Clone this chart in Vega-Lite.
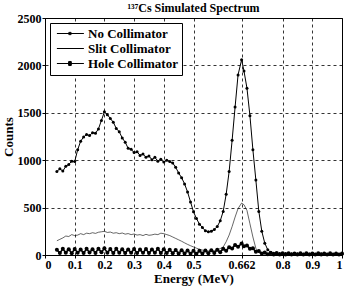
{
  "$schema": "https://vega.github.io/schema/vega-lite/v6.json",
  "width": 297,
  "height": 237,
  "autosize": {"type": "none"},
  "padding": {"left": 45, "top": 18, "right": 4, "bottom": 41},
  "background": "white",
  "title": {
    "text": "¹³⁷Cs Simulated Spectrum",
    "font": "Liberation Serif",
    "fontSize": 12,
    "fontWeight": "bold",
    "color": "black",
    "anchor": "middle",
    "frame": "group",
    "offset": -3
  },
  "config": {
    "view": {"stroke": "black", "strokeWidth": 1},
    "axis": {
      "labelFont": "Liberation Serif",
      "labelFontWeight": "bold",
      "labelFontSize": 12,
      "labelColor": "black",
      "titleFont": "Liberation Serif",
      "titleFontWeight": "bold",
      "titleFontSize": 13,
      "titleColor": "black",
      "domain": false,
      "tickColor": "black",
      "tickSize": 3,
      "labelPadding": 1,
      "gridColor": "black",
      "gridDash": [3, 3],
      "gridWidth": 0.8
    },
    "legend": {
      "orient": "top-left",
      "offset": 5,
      "padding": 4,
      "strokeColor": "black",
      "fillColor": "white",
      "labelFont": "Liberation Serif",
      "labelFontWeight": "bold",
      "labelFontSize": 13,
      "labelColor": "black",
      "labelOffset": 21,
      "symbolSize": 81,
      "symbolStrokeWidth": 1,
      "rowPadding": 1
    }
  },
  "datasets": {
    "noCollimator": [
      {"E": 0.04, "C": 880}, {"E": 0.05, "C": 910}, {"E": 0.06, "C": 885}, {"E": 0.07, "C": 935},
      {"E": 0.08, "C": 955}, {"E": 0.09, "C": 990}, {"E": 0.10, "C": 985}, {"E": 0.11, "C": 1110},
      {"E": 0.12, "C": 1200}, {"E": 0.13, "C": 1245}, {"E": 0.14, "C": 1270}, {"E": 0.15, "C": 1260},
      {"E": 0.16, "C": 1290}, {"E": 0.17, "C": 1285}, {"E": 0.18, "C": 1330}, {"E": 0.19, "C": 1420},
      {"E": 0.20, "C": 1510}, {"E": 0.21, "C": 1480}, {"E": 0.22, "C": 1440}, {"E": 0.23, "C": 1400},
      {"E": 0.24, "C": 1335}, {"E": 0.25, "C": 1300}, {"E": 0.26, "C": 1235}, {"E": 0.27, "C": 1190},
      {"E": 0.28, "C": 1125}, {"E": 0.29, "C": 1115}, {"E": 0.30, "C": 1080}, {"E": 0.31, "C": 1090},
      {"E": 0.32, "C": 1050}, {"E": 0.33, "C": 1065}, {"E": 0.34, "C": 1030}, {"E": 0.35, "C": 1045},
      {"E": 0.36, "C": 1005}, {"E": 0.37, "C": 1030}, {"E": 0.38, "C": 990}, {"E": 0.39, "C": 1010},
      {"E": 0.40, "C": 980}, {"E": 0.41, "C": 1000}, {"E": 0.42, "C": 985}, {"E": 0.43, "C": 970},
      {"E": 0.44, "C": 925}, {"E": 0.45, "C": 865}, {"E": 0.46, "C": 815}, {"E": 0.47, "C": 750},
      {"E": 0.48, "C": 665}, {"E": 0.49, "C": 560}, {"E": 0.50, "C": 455}, {"E": 0.51, "C": 385},
      {"E": 0.52, "C": 325}, {"E": 0.53, "C": 290}, {"E": 0.54, "C": 255}, {"E": 0.55, "C": 245},
      {"E": 0.56, "C": 250}, {"E": 0.57, "C": 270}, {"E": 0.58, "C": 300}, {"E": 0.59, "C": 360},
      {"E": 0.60, "C": 460}, {"E": 0.61, "C": 640}, {"E": 0.62, "C": 880}, {"E": 0.63, "C": 1210},
      {"E": 0.64, "C": 1560}, {"E": 0.65, "C": 1900}, {"E": 0.662, "C": 2060}, {"E": 0.67, "C": 1940},
      {"E": 0.68, "C": 1760}, {"E": 0.69, "C": 1470}, {"E": 0.70, "C": 1110}, {"E": 0.71, "C": 790},
      {"E": 0.72, "C": 460}, {"E": 0.73, "C": 250}, {"E": 0.74, "C": 125}, {"E": 0.75, "C": 55},
      {"E": 0.76, "C": 28}, {"E": 0.77, "C": 18}, {"E": 0.78, "C": 14}, {"E": 0.79, "C": 16},
      {"E": 0.80, "C": 12}, {"E": 0.81, "C": 15}, {"E": 0.82, "C": 11}, {"E": 0.83, "C": 14},
      {"E": 0.84, "C": 10}, {"E": 0.85, "C": 13}, {"E": 0.86, "C": 12}, {"E": 0.87, "C": 9},
      {"E": 0.88, "C": 12}, {"E": 0.89, "C": 10}, {"E": 0.90, "C": 13}, {"E": 0.91, "C": 9},
      {"E": 0.92, "C": 11}, {"E": 0.93, "C": 12}, {"E": 0.94, "C": 10}, {"E": 0.95, "C": 8},
      {"E": 0.96, "C": 11}, {"E": 0.97, "C": 9}, {"E": 0.98, "C": 10}, {"E": 0.99, "C": 8},
      {"E": 1.00, "C": 9}
    ],
    "slit": [
      {"E": 0.04, "C": 150}, {"E": 0.05, "C": 165}, {"E": 0.06, "C": 180}, {"E": 0.07, "C": 200},
      {"E": 0.08, "C": 195}, {"E": 0.09, "C": 215}, {"E": 0.10, "C": 205}, {"E": 0.11, "C": 210},
      {"E": 0.12, "C": 225}, {"E": 0.13, "C": 215}, {"E": 0.14, "C": 230}, {"E": 0.15, "C": 225},
      {"E": 0.16, "C": 235}, {"E": 0.17, "C": 228}, {"E": 0.18, "C": 240}, {"E": 0.19, "C": 245},
      {"E": 0.20, "C": 250}, {"E": 0.21, "C": 238}, {"E": 0.22, "C": 242}, {"E": 0.23, "C": 230},
      {"E": 0.24, "C": 235}, {"E": 0.25, "C": 225}, {"E": 0.26, "C": 232}, {"E": 0.27, "C": 220},
      {"E": 0.28, "C": 226}, {"E": 0.29, "C": 215}, {"E": 0.30, "C": 222}, {"E": 0.31, "C": 210},
      {"E": 0.32, "C": 215}, {"E": 0.33, "C": 205}, {"E": 0.34, "C": 218}, {"E": 0.35, "C": 208},
      {"E": 0.36, "C": 212}, {"E": 0.37, "C": 220}, {"E": 0.38, "C": 215}, {"E": 0.39, "C": 230},
      {"E": 0.40, "C": 225}, {"E": 0.41, "C": 215}, {"E": 0.42, "C": 205}, {"E": 0.43, "C": 190},
      {"E": 0.44, "C": 175}, {"E": 0.45, "C": 160}, {"E": 0.46, "C": 145}, {"E": 0.47, "C": 128},
      {"E": 0.48, "C": 112}, {"E": 0.49, "C": 98}, {"E": 0.50, "C": 85}, {"E": 0.51, "C": 72},
      {"E": 0.52, "C": 60}, {"E": 0.53, "C": 52}, {"E": 0.54, "C": 46}, {"E": 0.55, "C": 42},
      {"E": 0.56, "C": 40}, {"E": 0.57, "C": 45}, {"E": 0.58, "C": 55}, {"E": 0.59, "C": 68},
      {"E": 0.60, "C": 84}, {"E": 0.61, "C": 140}, {"E": 0.62, "C": 210}, {"E": 0.63, "C": 300},
      {"E": 0.64, "C": 400}, {"E": 0.65, "C": 490}, {"E": 0.662, "C": 548}, {"E": 0.67, "C": 530},
      {"E": 0.68, "C": 470}, {"E": 0.69, "C": 330}, {"E": 0.70, "C": 190}, {"E": 0.71, "C": 70},
      {"E": 0.72, "C": 25}, {"E": 0.73, "C": 14}, {"E": 0.74, "C": 11}, {"E": 0.75, "C": 10},
      {"E": 0.80, "C": 9}, {"E": 0.85, "C": 10}, {"E": 0.90, "C": 8}, {"E": 0.95, "C": 9},
      {"E": 1.00, "C": 8}
    ],
    "hole": [
      {"E": 0.04, "C": 55}, {"E": 0.05, "C": 20}, {"E": 0.06, "C": 65}, {"E": 0.07, "C": 25},
      {"E": 0.08, "C": 60}, {"E": 0.09, "C": 18}, {"E": 0.10, "C": 62}, {"E": 0.11, "C": 23},
      {"E": 0.12, "C": 58}, {"E": 0.13, "C": 20}, {"E": 0.14, "C": 65}, {"E": 0.15, "C": 26},
      {"E": 0.16, "C": 60}, {"E": 0.17, "C": 22}, {"E": 0.18, "C": 67}, {"E": 0.19, "C": 28},
      {"E": 0.20, "C": 70}, {"E": 0.21, "C": 25}, {"E": 0.22, "C": 62}, {"E": 0.23, "C": 20},
      {"E": 0.24, "C": 65}, {"E": 0.25, "C": 24}, {"E": 0.26, "C": 60}, {"E": 0.27, "C": 20},
      {"E": 0.28, "C": 58}, {"E": 0.29, "C": 23}, {"E": 0.30, "C": 63}, {"E": 0.31, "C": 20},
      {"E": 0.32, "C": 57}, {"E": 0.33, "C": 24}, {"E": 0.34, "C": 62}, {"E": 0.35, "C": 20},
      {"E": 0.36, "C": 58}, {"E": 0.37, "C": 25}, {"E": 0.38, "C": 65}, {"E": 0.39, "C": 22},
      {"E": 0.40, "C": 60}, {"E": 0.41, "C": 20}, {"E": 0.42, "C": 56}, {"E": 0.43, "C": 18},
      {"E": 0.44, "C": 54}, {"E": 0.45, "C": 16}, {"E": 0.46, "C": 50}, {"E": 0.47, "C": 15},
      {"E": 0.48, "C": 48}, {"E": 0.49, "C": 14}, {"E": 0.50, "C": 46}, {"E": 0.51, "C": 12},
      {"E": 0.52, "C": 45}, {"E": 0.53, "C": 15}, {"E": 0.54, "C": 48}, {"E": 0.55, "C": 18},
      {"E": 0.56, "C": 50}, {"E": 0.57, "C": 22}, {"E": 0.58, "C": 55}, {"E": 0.59, "C": 30},
      {"E": 0.60, "C": 65}, {"E": 0.61, "C": 45}, {"E": 0.62, "C": 82}, {"E": 0.63, "C": 68},
      {"E": 0.64, "C": 105}, {"E": 0.65, "C": 88}, {"E": 0.662, "C": 120}, {"E": 0.67, "C": 92},
      {"E": 0.68, "C": 100}, {"E": 0.69, "C": 65}, {"E": 0.70, "C": 70}, {"E": 0.71, "C": 35},
      {"E": 0.72, "C": 42}, {"E": 0.73, "C": 15}, {"E": 0.74, "C": 26}, {"E": 0.75, "C": 8},
      {"E": 0.76, "C": 22}, {"E": 0.77, "C": 6}, {"E": 0.78, "C": 20}, {"E": 0.79, "C": 5},
      {"E": 0.80, "C": 18}, {"E": 0.81, "C": 4}, {"E": 0.82, "C": 19}, {"E": 0.83, "C": 5},
      {"E": 0.84, "C": 17}, {"E": 0.85, "C": 4}, {"E": 0.86, "C": 18}, {"E": 0.87, "C": 5},
      {"E": 0.88, "C": 19}, {"E": 0.89, "C": 4}, {"E": 0.90, "C": 17}, {"E": 0.91, "C": 5},
      {"E": 0.92, "C": 18}, {"E": 0.93, "C": 4}, {"E": 0.94, "C": 16}, {"E": 0.95, "C": 5},
      {"E": 0.96, "C": 18}, {"E": 0.97, "C": 4}, {"E": 0.98, "C": 17}, {"E": 0.99, "C": 5},
      {"E": 1.00, "C": 15}
    ]
  },
  "encoding": {
    "x": {
      "field": "E",
      "type": "quantitative",
      "scale": {"domain": [0, 1], "nice": false},
      "axis": {
        "title": "Energy (MeV)",
        "values": [0, 0.1, 0.2, 0.3, 0.4, 0.5, 0.662, 0.8, 0.9, 1],
        "labelExpr": "format(datum.value, '~g')",
        "titlePadding": 2
      }
    },
    "y": {
      "field": "C",
      "type": "quantitative",
      "scale": {"domain": [0, 2500], "nice": false},
      "axis": {
        "title": "Counts",
        "values": [0, 500, 1000, 1500, 2000, 2500],
        "format": "d",
        "titlePadding": 2
      }
    }
  },
  "layer": [
    {
      "data": {"name": "slit"},
      "mark": {"type": "line", "color": "black", "strokeWidth": 0.6}
    },
    {
      "data": {"name": "hole"},
      "mark": {"type": "line", "color": "black", "strokeWidth": 1.6}
    },
    {
      "data": {"name": "hole"},
      "mark": {"type": "point", "shape": "circle", "filled": true, "color": "black", "size": 16, "opacity": 1}
    },
    {
      "data": {"name": "noCollimator"},
      "mark": {"type": "line", "color": "black", "strokeWidth": 1}
    },
    {
      "data": {"name": "noCollimator"},
      "mark": {"type": "point", "shape": "circle", "filled": true, "color": "black", "size": 9, "opacity": 1}
    },
    {
      "data": {"values": [{"series": "No Collimator"}]},
      "transform": [{"filter": "false"}],
      "mark": {"type": "point", "filled": false, "color": "black", "strokeWidth": 1},
      "encoding": {
        "shape": {
          "field": "series",
          "type": "nominal",
          "scale": {
            "domain": ["No Collimator", "Slit Collimator", "Hole Collimator"],
            "range": [
              "M-0.8,0L5.2,0M1.85,-0.25L2.35,-0.25L2.35,0.25L1.85,0.25Z",
              "M-0.8,0L5.2,0",
              "M-0.8,0L5.2,0M1.8,-0.45L2.4,-0.45L2.4,0.45L1.8,0.45ZM1.8,-0.22L2.4,-0.22M1.8,0.22L2.4,0.22M2.1,-0.45L2.1,0.45"
            ]
          },
          "legend": {
            "title": null,
            "symbolStrokeColor": "black",
            "symbolStrokeWidth": 1,
            "symbolOpacity": 1
          }
        }
      }
    }
  ]
}
